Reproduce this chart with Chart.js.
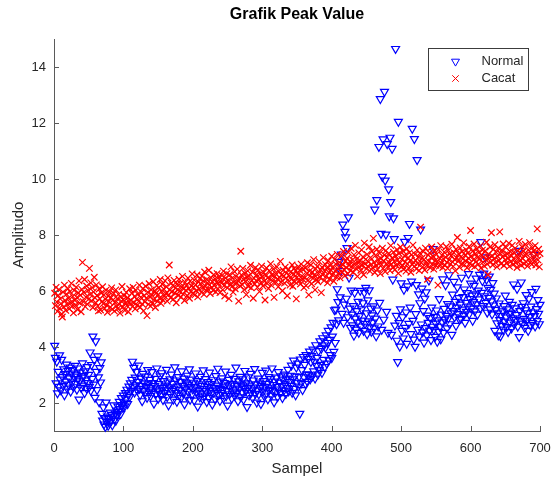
<!DOCTYPE html>
<html>
<head>
<meta charset="utf-8">
<title>Grafik Peak Value</title>
<script src="https://cdn.jsdelivr.net/npm/chart.js@4.4.1/dist/chart.umd.min.js"></script>
<style>
  html, body { margin: 0; padding: 0; background: #fff; }
  canvas { display: block; }
</style>
</head>
<body>
<canvas id="grafik" width="551" height="479"></canvas>
<script>
// peak value tiap sampel (sampel ke-1 .. ke-700)
const peakNormal = [
  4.05, 3.62, 2.71, 3.48, 2.35, 3.12, 2.58, 3.71, 2.84, 2.46,
  3.55, 2.93, 2.62, 3.21, 2.28, 3.04, 2.77, 3.38, 2.52, 3.15,
  2.66, 2.89, 3.27, 2.41, 3.06, 2.74, 3.18, 2.57, 2.95, 3.33,
  2.69, 3.02, 2.48, 2.86, 3.24, 2.13, 2.78, 3.09, 2.55, 2.91,
  3.42, 2.63, 2.97, 2.36, 3.14, 2.81, 2.52, 3.29, 2.72, 3.01,
  2.58, 3.81, 2.44, 3.36, 2.87, 4.38, 2.66, 3.55, 2.19, 4.21,
  3.12, 2.47, 3.67, 2.92, 2.03, 3.25, 2.74, 3.46,
  1.62, 1.38, 1.85, 1.24, 1.47, 1.15, 2.02, 1.33, 1.52, 1.19, 1.44, 1.28,
  1.66, 1.35, 1.58, 1.21, 1.49, 1.92, 1.41, 1.63, 1.37, 1.74,
  1.55, 1.88, 1.68, 2.05, 1.79, 1.61, 2.18, 1.93, 1.84, 2.27,
  2.02, 1.89, 2.36, 2.14, 2.48, 1.97, 2.31, 2.59, 2.22, 2.71, 2.44, 2.83,
  3.48, 2.57, 3.26, 2.38, 2.91, 2.64, 3.12, 2.45,
  2.76, 3.34, 2.51, 2.29, 2.88, 2.62, 2.07, 3.05, 2.43, 2.71,
  2.34, 2.95, 2.58, 2.19, 3.18, 2.67, 2.46, 2.83, 2.25, 2.54,
  3.11, 2.39, 2.72, 1.98, 2.61, 2.87, 2.33, 3.24, 2.49, 2.15,
  2.68, 2.42, 2.96, 2.27, 3.07, 2.55, 2.11, 2.79, 2.36, 2.63,
  2.48, 3.19, 2.22, 2.74, 1.92, 2.57, 2.85, 2.31, 3.02, 2.44,
  2.69, 2.13, 2.52, 3.28, 2.37, 2.81, 2.05, 2.59, 2.93, 2.28,
  2.47, 2.76, 2.18, 3.14, 2.62, 2.35, 2.88, 1.96, 2.53, 2.71,
  2.24, 2.98, 2.41, 2.66, 3.21, 2.12, 2.58, 2.84, 2.32, 2.49,
  2.73, 2.09, 2.56, 3.06, 2.38, 2.79, 1.88, 2.45, 2.67, 2.21,
  2.94, 2.34, 2.62, 2.15, 3.17, 2.51, 2.27, 2.86, 2.43, 2.04,
  2.58, 2.75, 2.19, 3.09, 2.46, 2.31, 2.68, 1.95, 2.82, 2.37,
  2.55, 2.14, 2.97, 2.42, 2.63, 3.23, 2.29, 2.51, 2.08, 2.77,
  2.36, 2.89, 2.47, 2.17, 2.72, 2.59, 3.13, 2.25, 2.44, 1.91,
  2.64, 2.83, 2.32, 2.53, 3.01, 2.16, 2.69, 2.41, 2.87, 2.26,
  2.48, 3.27, 2.35, 2.61, 2.07, 2.78, 2.52, 2.94, 2.21, 2.66,
  2.39, 2.85, 2.12, 2.57, 3.15, 2.43, 2.71, 1.86, 2.54, 2.92,
  2.28, 2.63, 3.05, 2.37, 2.49, 2.18, 2.81, 2.56, 3.22, 2.33,
  2.67, 2.02, 2.46, 2.88, 2.31, 2.74, 2.55, 1.97, 2.62, 3.08,
  2.41, 2.79, 2.24, 2.58, 3.16, 2.35, 2.69, 2.14, 2.93, 2.47,
  2.53, 2.86, 2.27, 3.24, 2.44, 2.65, 2.03, 2.77, 2.39, 2.91,
  2.58, 2.22, 3.11, 2.49, 2.73, 2.36, 2.96, 2.61, 2.18, 2.84,
  2.45, 3.02, 2.67, 2.33, 2.88, 2.54, 3.19, 2.42, 2.76, 2.98,
  2.62, 3.34, 2.37, 2.85, 3.52, 2.51, 2.96, 2.28, 3.27, 2.73,
  3.41, 2.59, 2.94, 1.62, 3.56, 2.71, 3.18, 2.47, 3.65, 2.92,
  3.37, 2.69, 3.72, 3.03, 2.76, 3.58, 3.01, 3.84, 2.85, 3.47,
  3.68, 2.96, 3.91, 3.14, 3.48, 2.88, 4.07, 3.33, 3.62, 3.02,
  3.86, 3.19, 4.21, 3.37, 3.94, 3.08, 4.32, 3.55, 4.06, 3.29,
  3.98, 4.42, 3.41, 4.15, 4.58, 3.53, 4.26, 3.72, 4.71, 3.61,
  4.38, 4.87, 3.83, 5.32, 4.15,
  5.34, 4.82, 6.07, 5.61, 4.96, 7.05, 5.78, 6.72, 7.31, 5.19,
  8.38, 4.87, 5.52, 8.12, 7.92, 5.73, 7.54, 5.07, 8.64, 6.48,
  5.38, 4.69, 6.02, 5.16, 4.78, 5.47, 4.41, 5.94, 5.02, 4.63,
  5.29, 4.88, 5.62, 4.51, 5.11, 6.01, 4.74, 5.35, 4.95, 5.57,
  4.58, 5.94, 4.83, 6.12, 5.21, 4.46, 5.67, 4.92, 6.03, 4.71,
  5.38, 4.55, 5.14, 4.88, 5.46, 4.67, 8.91, 5.02, 4.39, 9.25,
  5.31, 4.74, 11.15, 5.58, 12.86, 8.05, 4.62, 10.08, 11.42, 4.98,
  13.12, 9.95, 8.02, 5.26, 11.25, 4.51, 9.64, 8.67, 11.48, 9.18,
  4.44, 11.08, 6.41, 8.60, 7.86, 4.77, 14.65, 5.12, 4.23, 3.47,
  12.05, 4.86, 4.02, 5.35, 6.28, 4.58, 5.07, 4.31, 6.05, 7.76,
  4.69, 5.24, 4.12, 6.17, 7.90, 4.83, 8.40, 5.41, 4.47, 6.34,
  11.80, 4.94, 4.27, 11.43, 4.01, 5.18, 6.22, 10.68, 4.62, 5.89,
  4.38, 5.57, 8.20, 4.81, 6.09, 4.53, 5.29, 4.16, 5.73, 4.68,
  5.96, 4.42, 5.13, 4.87, 6.38, 4.59, 5.04, 4.25, 5.41, 4.73,
  7.50, 4.62, 5.08, 4.37, 4.84, 5.31, 4.19, 4.96, 4.55, 5.72,
  4.73, 4.28, 5.16, 4.89, 6.42, 4.51, 5.37, 4.98, 6.21, 5.12,
  4.67, 5.54, 5.03, 6.57, 4.82, 5.46, 5.21, 4.44, 5.88, 5.29,
  6.33, 5.07, 5.62, 4.76, 5.41, 6.14, 5.18, 5.75, 4.98, 5.52,
  5.01, 6.48, 5.34, 5.79, 5.13, 6.06, 4.87, 5.58, 5.26, 5.93,
  5.45, 6.61, 5.17, 5.72, 6.27, 5.38, 5.84, 4.94, 5.61, 6.19,
  5.28, 5.89, 6.45, 5.53, 5.16, 6.02, 5.71, 6.58, 5.39, 7.75,
  5.94, 6.36, 5.47, 6.63, 5.82, 7.21, 5.58, 6.41, 5.23, 6.12,
  5.76, 6.52, 5.35, 6.05, 5.64, 5.17, 6.29, 5.49, 5.91, 4.58,
  5.33, 5.74, 4.85, 5.21, 4.42, 5.56, 4.97, 4.39, 5.12, 4.76,
  5.28, 4.63, 5.47, 4.91, 5.84, 5.06, 4.72, 5.35, 4.54, 5.18,
  5.62, 4.88, 5.23, 4.67, 5.51, 5.03, 6.24, 4.81, 5.39, 4.97,
  5.15, 6.08, 4.73, 7.44, 4.36, 5.29, 4.92, 6.31, 5.44, 4.84,
  5.57, 5.01, 4.69, 5.32, 5.86, 4.95, 5.21, 4.58, 5.73, 5.08,
  4.79, 5.45, 5.97, 4.86, 5.24, 7.30, 5.11, 4.74, 6.08, 5.36,
  4.93, 5.68, 5.19, 4.82, 5.51
];

const peakCacat = [
  5.92, 5.48, 6.13, 5.61, 5.27, 5.84, 6.05, 5.39, 5.72, 5.55,
  5.18, 5.07, 5.96, 5.43, 6.21, 5.66, 5.31, 5.89, 5.52, 6.08,
  5.74, 5.36, 5.98, 5.58, 6.27, 5.45, 5.81, 5.22, 6.02, 5.67,
  5.49, 6.14, 5.77, 5.34, 5.93, 6.36, 5.57, 5.85, 5.26, 6.06,
  7.02, 5.62, 5.95, 6.41, 5.44, 5.78, 6.18, 5.53, 6.02, 5.71,
  6.81, 5.88, 6.29, 5.65, 6.12, 5.41, 5.97, 6.49, 5.76, 5.58,
  6.22, 5.84, 5.47, 5.29, 6.07, 5.72, 5.32, 5.93, 5.61, 6.15,
  5.55, 5.86, 5.38, 5.71, 6.03, 5.49, 5.24, 5.82, 5.63, 5.97,
  5.42, 5.76, 6.11, 5.35, 5.68, 5.91, 5.28, 5.59, 6.04, 5.46,
  5.73, 5.37, 5.88, 5.52, 5.21, 5.79, 5.64, 6.16, 5.43, 5.69,
  5.84, 5.31, 5.57, 5.95, 5.48, 5.76, 5.26, 5.62, 6.08, 5.53,
  5.67, 5.92, 5.44, 6.13, 5.58, 5.81, 5.36, 6.02, 5.71, 5.49,
  5.88, 5.63, 6.21, 5.42, 5.77, 5.95, 5.54, 6.08, 5.29, 5.83,
  5.61, 6.17, 5.74, 5.12, 5.96, 5.52, 6.26, 5.79, 5.46, 6.04,
  5.85, 5.57, 6.33, 5.69, 6.01, 5.41, 5.92, 6.19, 5.63, 5.87,
  6.12, 5.74, 6.41, 5.56, 5.98, 6.24, 5.68, 6.07, 5.82, 6.36,
  5.91, 6.15, 5.64, 6.47, 5.87, 6.93, 6.03, 5.76, 6.28, 5.97,
  6.19, 5.71, 6.38, 5.93, 6.11, 5.58, 6.24, 6.05, 5.84, 6.42,
  5.99, 6.27, 5.78, 6.14, 6.52, 5.89, 6.08, 5.66, 6.31, 6.02,
  6.21, 5.83, 6.46, 6.09, 5.74, 6.35, 5.97, 6.18, 6.61, 5.92,
  6.14, 6.39, 5.86, 6.23, 6.01, 6.57, 5.79, 6.32, 6.07, 6.44,
  6.26, 5.95, 6.53, 6.12, 6.36, 5.88, 6.68, 6.17, 6.03, 6.41,
  6.29, 6.06, 6.74, 6.21, 5.91, 6.48, 6.13, 6.34, 6.02, 6.58,
  6.19, 6.43, 5.97, 6.31, 6.62, 6.08, 6.27, 6.51, 5.94, 6.37,
  6.28, 6.55, 6.04, 6.71, 6.19, 5.82, 6.46, 6.33, 6.62, 6.11,
  6.39, 5.73, 6.58, 6.24, 6.86, 6.15, 6.47, 5.96, 6.31, 6.69,
  6.08, 6.52, 6.27, 6.78, 6.36, 5.64, 6.45, 6.18, 7.42, 6.57,
  6.23, 6.81, 6.41, 6.05, 6.63, 6.34, 5.87, 6.49, 6.72, 6.16,
  6.54, 6.29, 6.92, 6.11, 6.38, 6.67, 5.74, 6.46, 6.25, 6.83,
  6.37, 6.58, 6.13, 6.75, 6.42, 5.98, 6.61, 6.29, 6.89, 6.51,
  6.18, 6.66, 6.35, 5.68, 6.54, 6.82, 6.27, 6.47, 6.09, 6.73,
  6.44, 6.97, 6.21, 6.58, 6.36, 6.79, 5.77, 6.52, 6.63, 6.31,
  6.86, 6.43, 6.15, 6.69, 6.48, 7.06, 6.32, 6.57, 6.01, 6.74,
  6.53, 6.28, 6.85, 6.46, 6.64, 5.83, 6.39, 6.77, 6.55, 6.21,
  6.68, 6.42, 6.93, 6.17, 6.59, 6.81, 6.34, 6.72, 5.72, 6.49,
  6.61, 6.87, 6.36, 6.74, 6.25, 6.96, 6.53, 6.43, 6.78, 6.12,
  6.47, 6.82, 6.19, 6.63, 7.01, 6.38, 5.86, 6.71, 6.54, 6.93,
  6.26, 6.68, 6.45, 7.12, 6.57, 6.04, 6.79, 6.41, 6.88, 6.33,
  6.62, 7.05, 6.49, 6.76, 5.94, 6.85, 6.58, 7.19, 6.37, 6.71,
  6.94, 6.52, 6.83, 6.29, 7.08, 6.66, 6.43, 6.91, 6.74, 7.24,
  6.58, 6.87, 6.35, 7.13, 6.72, 6.96, 6.51, 7.31, 6.79, 6.64,
  7.02, 6.47, 6.89, 7.26, 6.68, 6.93, 7.41, 6.76, 6.55, 7.07,
  6.84, 7.17, 6.61, 7.38, 6.92, 7.05, 6.73, 7.52, 6.88, 7.11,
  6.67, 7.29, 6.95, 7.63, 6.81, 7.14, 6.52, 7.01, 7.36, 6.86,
  7.08, 6.74, 7.47, 6.93, 7.22, 6.58, 7.71, 6.97, 7.13, 6.79,
  7.31, 6.89, 7.04, 7.58, 6.71, 7.19, 6.95, 7.42, 6.83, 7.88,
  7.02, 6.66, 7.27, 6.91, 7.49, 6.78, 7.12, 6.97, 7.35, 6.62,
  7.16, 6.94, 7.53, 6.81, 7.07, 7.28, 6.69, 7.44, 6.98, 7.21,
  6.87, 7.33, 7.01, 6.73, 7.62, 6.96, 7.18, 6.84, 7.39, 7.06,
  6.76, 7.25, 6.92, 7.48, 7.11, 6.63, 7.34, 6.99, 7.57, 6.85,
  7.13, 6.91, 7.42, 6.78, 7.26, 7.04, 6.71, 7.51, 6.96, 7.19,
  6.82, 7.37, 7.08, 6.67, 7.29, 6.94, 7.64, 7.02, 6.88, 7.31,
  7.09, 6.79, 7.46, 6.98, 7.22, 6.73, 7.35, 8.28, 7.01, 7.17,
  6.86, 7.41, 7.12, 6.75, 7.53, 7.04, 6.91, 6.42, 7.28, 7.06,
  7.36, 6.83, 7.19, 7.57, 6.97, 7.24, 6.78, 7.43, 7.08, 6.92,
  7.31, 7.05, 6.21, 7.48, 6.89, 7.16, 7.62, 6.99, 7.27, 6.84,
  7.14, 7.39, 6.93, 7.21, 7.58, 7.02, 6.81, 7.45, 7.11, 7.33,
  6.96, 7.26, 7.67, 7.04, 6.88, 7.37, 7.13, 6.72, 7.49, 7.18,
  7.91, 7.06, 7.32, 6.85, 7.54, 7.22, 6.97, 7.41, 7.15, 7.72,
  6.94, 7.28, 7.08, 7.46, 6.83, 7.35, 7.17, 7.59, 6.99, 8.16,
  7.24, 6.91, 7.42, 7.11, 7.68, 6.87, 7.33, 7.05, 7.51, 7.19,
  6.95, 7.37, 7.14, 7.61, 6.82, 7.28, 7.46, 7.03, 7.22, 6.89,
  7.43, 7.12, 7.74, 6.96, 6.58, 7.31, 7.18, 7.57, 7.04, 8.08,
  7.26, 6.93, 7.49, 7.15, 7.65, 7.02, 7.38, 6.86, 7.24, 7.53,
  7.09, 8.11, 7.34, 6.97, 7.46, 7.21, 7.68, 6.91, 7.29, 7.12,
  7.55, 6.99, 7.32, 7.17, 7.71, 6.88, 7.41, 7.06, 7.26, 7.63,
  6.94, 7.38, 7.13, 7.52, 7.01, 7.27, 6.84, 7.44, 7.19, 7.77,
  7.08, 7.35, 6.92, 7.58, 7.16, 7.42, 6.97, 7.29, 7.66, 7.04,
  7.31, 6.89, 7.47, 7.14, 7.73, 7.02, 7.36, 6.95, 7.55, 7.21,
  7.43, 7.07, 7.62, 6.93, 7.28, 8.22, 7.11, 7.49, 6.86, 7.34
];

const xTicks = [0, 100, 200, 300, 400, 500, 600, 700];
const yTicks = [2, 4, 6, 8, 10, 12, 14];

const fontFamily = '"Liberation Sans", Arial, Helvetica, sans-serif';
const textColor = '#262626';
const axisColor = '#5a5a5a';

// sampel dimulai dari 1
function toPoints(values) {
    return values.map((v, i) => ({ x: i + 1, y: v }));
}

// tick kecil yang menghadap ke dalam area plot
const innerTicks = {
    id: 'innerTicks',
    afterDatasetsDraw(chart) {
        const { ctx, chartArea, scales } = chart;
        ctx.save();
        ctx.strokeStyle = axisColor;
        ctx.lineWidth = 1;
        ctx.beginPath();
        scales.x.ticks.forEach(t => {
            const px = Math.round(scales.x.getPixelForValue(t.value)) + 0.5;
            ctx.moveTo(px, chartArea.bottom);
            ctx.lineTo(px, chartArea.bottom - 5);
        });
        scales.y.ticks.forEach(t => {
            const py = Math.round(scales.y.getPixelForValue(t.value)) + 0.5;
            ctx.moveTo(chartArea.left, py);
            ctx.lineTo(chartArea.left + 5, py);
        });
        ctx.stroke();
        ctx.restore();
    }
};

// legenda dengan kotak di pojok kanan atas
const boxLegend = {
    id: 'boxLegend',
    afterDraw(chart) {
        const { ctx, chartArea } = chart;
        const w = 100, h = 42;
        const x0 = Math.round(chartArea.right - 12 - w) + 0.5;
        const y0 = Math.round(chartArea.top + 9) + 0.5;
        ctx.save();
        ctx.fillStyle = '#ffffff';
        ctx.fillRect(x0, y0, w, h);
        ctx.strokeStyle = '#3c3c3c';
        ctx.lineWidth = 1;
        ctx.strokeRect(x0, y0, w, h);
        ctx.font = '13px ' + fontFamily;
        ctx.textBaseline = 'middle';
        ctx.textAlign = 'left';
        chart.data.datasets.forEach((ds, i) => {
            const cy = y0 + 13 + i * 17;
            ctx.strokeStyle = ds.pointBorderColor;
            ctx.fillStyle = 'rgba(0,0,0,0)';
            Chart.helpers.drawPoint(ctx, {
                pointStyle: ds.pointStyle,
                rotation: ds.pointRotation || 0,
                radius: ds.pointRadius,
                borderWidth: ds.pointBorderWidth
            }, x0 + 27, cy);
            ctx.fillStyle = textColor;
            ctx.fillText(ds.label, x0 + 53, cy);
        });
        ctx.restore();
    }
};

const ctx = document.getElementById('grafik').getContext('2d');
new Chart(ctx, {
    type: 'scatter',
    data: {
        datasets: [
            {
                label: 'Normal',
                data: toPoints(peakNormal),
                pointStyle: 'triangle',
                pointRotation: 180,
                pointRadius: 4.6,
                pointBorderWidth: 1.2,
                pointBorderColor: '#0000ff',
                pointBackgroundColor: 'rgba(0,0,0,0)',
                clip: false,
                order: 1
            },
            {
                label: 'Cacat',
                data: toPoints(peakCacat),
                pointStyle: 'crossRot',
                pointRadius: 4.6,
                pointBorderWidth: 1.2,
                pointBorderColor: '#ff0000',
                pointBackgroundColor: 'rgba(0,0,0,0)',
                clip: false,
                order: 0
            }
        ]
    },
    options: {
        responsive: false,
        animation: false,
        devicePixelRatio: 1,
        events: [],
        layout: { padding: { left: 0, right: 11, top: 0, bottom: 0 } },
        plugins: {
            legend: { display: false },
            tooltip: { enabled: false },
            title: {
                display: true,
                text: 'Grafik Peak Value',
                fullSize: false,
                color: '#000',
                font: { family: fontFamily, size: 16, weight: 'bold' },
                padding: { top: 5, bottom: 14.8 }
            }
        },
        scales: {
            x: {
                type: 'linear',
                min: 0,
                max: 700,
                afterBuildTicks: s => { s.ticks = xTicks.map(v => ({ value: v })); },
                afterFit: s => {
                    s.height = 48;
                    s.paddingLeft = 0;
                    s.paddingRight = 0;
                },
                grid: { display: false, drawTicks: false },
                border: { display: true, color: axisColor, width: 1 },
                ticks: {
                    color: textColor,
                    padding: 10,
                    maxRotation: 0,
                    autoSkip: false,
                    font: { family: fontFamily, size: 13 }
                },
                title: {
                    display: true,
                    text: 'Sampel',
                    color: textColor,
                    font: { family: fontFamily, size: 15 },
                    padding: { top: 0, bottom: 1 }
                }
            },
            y: {
                type: 'linear',
                min: 1,
                max: 15,
                afterBuildTicks: s => { s.ticks = yTicks.map(v => ({ value: v })); },
                afterFit: s => {
                    s.width = 54;
                    s.paddingTop = 0;
                    s.paddingBottom = 0;
                },
                grid: { display: false, drawTicks: false },
                border: { display: true, color: axisColor, width: 1 },
                ticks: {
                    color: textColor,
                    padding: 8,
                    autoSkip: false,
                    font: { family: fontFamily, size: 13 }
                },
                title: {
                    display: true,
                    text: 'Amplitudo',
                    color: textColor,
                    font: { family: fontFamily, size: 15 },
                    padding: { top: 10, bottom: 0 }
                }
            }
        }
    },
    plugins: [innerTicks, boxLegend]
});
</script>
</body>
</html>
